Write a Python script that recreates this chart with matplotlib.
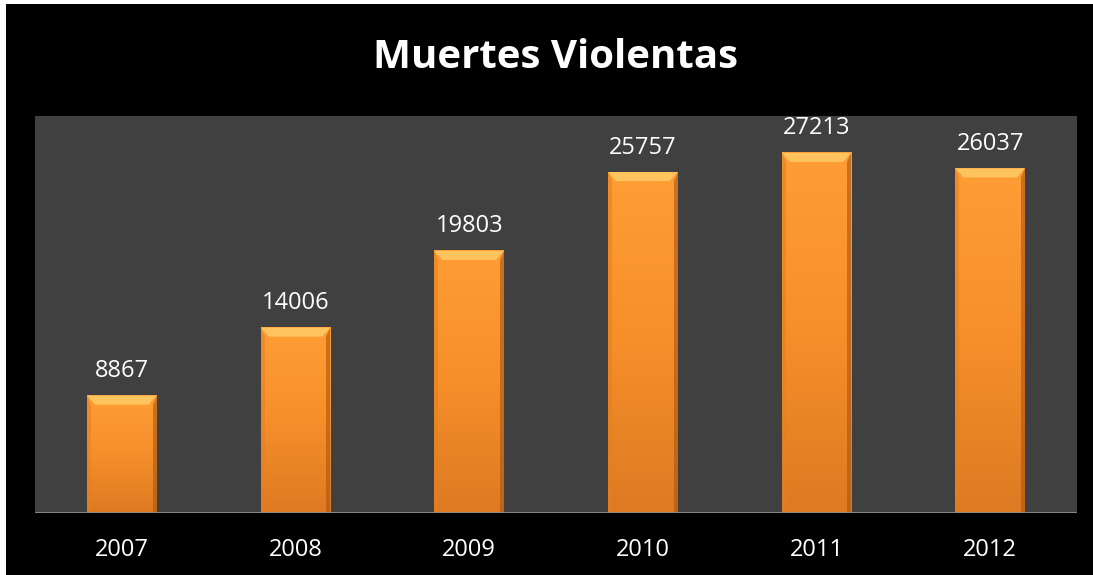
import numpy as np
import matplotlib.pyplot as plt
from matplotlib.patches import Rectangle, Polygon
from matplotlib.colors import LinearSegmentedColormap

years = ['2007', '2008', '2009', '2010', '2011', '2012']
deaths = [8867, 14006, 19803, 25757, 27213, 26037]

plt.rcParams['font.family'] = ['Open Sans', 'DejaVu Sans']

fig = plt.figure(figsize=(10.93, 5.75), dpi=100)
fig.patch.set_facecolor('white')
# black card behind everything
fig.patches.append(Rectangle((6 / 1093, 0), 1 - 6 / 1093, 1 - 4 / 575,
                             transform=fig.transFigure, facecolor='black',
                             edgecolor='none', zorder=-5))

ax = fig.add_axes([35 / 1093, 62 / 575, 1042 / 1093, 397 / 575])
ax.set_zorder(2)
ax.set_facecolor('#404040')
ymax = 30000
ax.set_ylim(0, ymax)
ax.set_xlim(-0.5, len(years) - 0.5)

x = np.arange(len(years))
width = 0.4
cmap = LinearSegmentedColormap.from_list('orng', ['#FF9D35', '#F68F2A', '#DD7A22'])
grad = np.linspace(0, 1, 256).reshape(-1, 1)

# pixel-constant bevel size in data units
bev_y = 9 * ymax / 397
bev_x = 8 * len(years) / 1042

for xi, v in zip(x, deaths):
    x0, x1 = xi - width / 2, xi + width / 2
    ax.imshow(grad, cmap=cmap, aspect='auto', extent=(x0, x1, 0, v),
              zorder=2, interpolation='bicubic')
    # top bevel (light)
    ax.add_patch(Polygon([(x0, v), (x1, v), (x1 - bev_x, v - bev_y), (x0 + bev_x, v - bev_y)],
                         closed=True, facecolor='#FFC45E', edgecolor='none', zorder=3))
    # right edge (dark)
    ax.add_patch(Polygon([(x1, v), (x1, 0), (x1 - bev_x * 0.5, 0), (x1 - bev_x * 0.5, v - bev_y)],
                         closed=True, facecolor='#A85510', edgecolor='none', alpha=0.6, zorder=3))
    # left edge
    ax.add_patch(Polygon([(x0, v), (x0, 0), (x0 + bev_x * 0.5, 0), (x0 + bev_x * 0.5, v - bev_y)],
                         closed=True, facecolor='#E5801E', edgecolor='none', alpha=0.6, zorder=3))
    ax.annotate(str(v), (xi, v), xytext=(0, 9), textcoords='offset points',
                ha='center', va='bottom', color='white', fontsize=17)

ax.axhline(0, color='#8C8C8C', lw=2, zorder=4)
ax.set_xticks(x)
ax.set_xticklabels(years, color='white', fontsize=17)
ax.tick_params(axis='x', length=0, pad=18)
ax.set_yticks([])
for s in ax.spines.values():
    s.set_visible(False)

fig.text(0.508, 1 - 57 / 575, 'Muertes Violentas', ha='center', va='center',
         color='white', fontsize=29, fontweight='bold')

fig.savefig('out.png', dpi=100, facecolor=fig.get_facecolor())
